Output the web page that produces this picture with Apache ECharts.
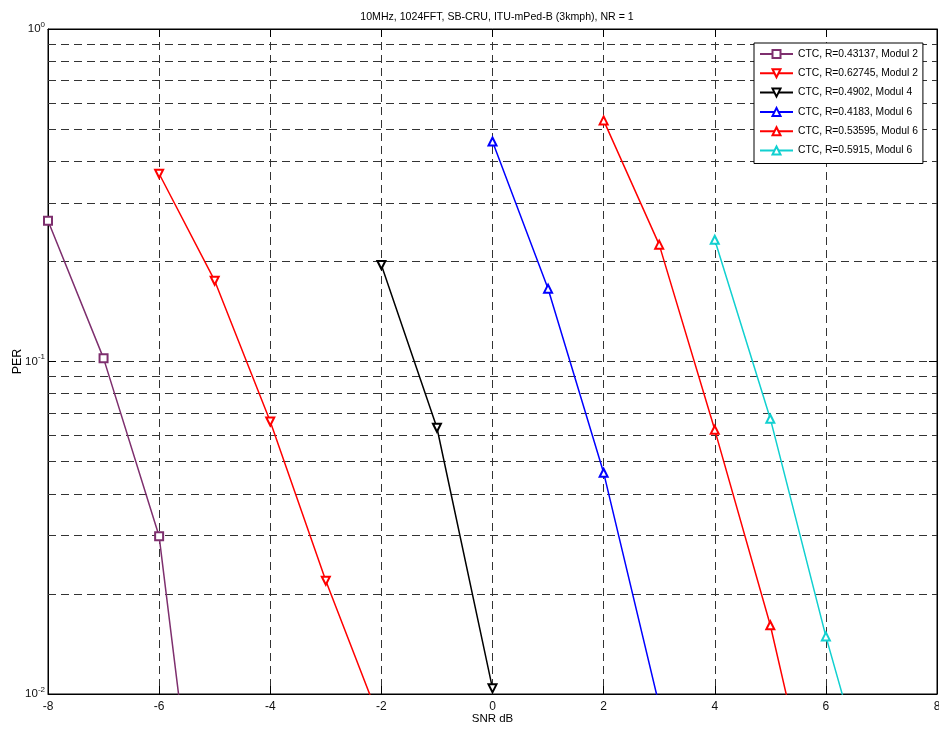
<!DOCTYPE html>
<html>
<head>
<meta charset="utf-8">
<script src="https://cdn.jsdelivr.net/npm/echarts@6/dist/echarts.min.js"></script>
<style>
html,body{margin:0;padding:0;background:#fff;}
#chart{width:939px;height:731px;}
</style>
</head>
<body>
<div id="chart"></div>
<script>
// ---- data ----
var titleText = '10MHz, 1024FFT, SB-CRU, ITU-mPed-B (3kmph), NR = 1';
var xTicks = [-8, -6, -4, -2, 0, 2, 4, 6, 8];
var yMajor = [0.01, 0.1, 1];
var yMinor = [0.02, 0.03, 0.04, 0.05, 0.06, 0.07, 0.08, 0.09, 0.2, 0.3, 0.4, 0.5, 0.6, 0.7, 0.8, 0.9];

var seriesNames = [
  'CTC, R=0.43137, Modul 2',
  'CTC, R=0.62745, Modul 2',
  'CTC, R=0.4902, Modul 4',
  'CTC, R=0.4183, Modul 6',
  'CTC, R=0.53595, Modul 6',
  'CTC, R=0.5915, Modul 6'
];
var snr1 = [-8, -7, -6, -5];
var per1 = [0.265, 0.1022, 0.0298, 0.00131];
var snr2 = [-6, -5, -4, -3, -2];
var per2 = [0.367, 0.175, 0.066, 0.0219, 0.0081];
var snr3 = [-2, -1, 0];
var per3 = [0.195, 0.0632, 0.0104];
var snr4 = [0, 1, 2, 3];
var per4 = [0.459, 0.1656, 0.0463, 0.00925];
var snr5 = [2, 3, 4, 5, 6];
var per5 = [0.531, 0.2246, 0.0623, 0.0161, 0.00303];
var snr6 = [4, 5, 6, 7];
var per6 = [0.2324, 0.0673, 0.0149, 0.00383];

// ---- styles ----
var colors = ['#7E2F6E', '#FF0000', '#000000', '#0000FF', '#FF0000', '#11D0D0'];
var symbols = ['emptyRect', 'emptyTriangle', 'emptyTriangle', 'emptyTriangle', 'emptyTriangle', 'emptyTriangle'];
var rotates = [0, 180, 180, 0, 0, 0];
var xs = [snr1, snr2, snr3, snr4, snr5, snr6];
var ys = [per1, per2, per3, per4, per5, per6];

function zip(a, b) { return a.map(function (v, i) { return [v, b[i]]; }); }

var gridDash = { color: '#333', type: [8, 5], width: 1 };

var series = seriesNames.map(function (n, i) {
  return {
    name: n,
    type: 'line',
    data: zip(xs[i], ys[i]),
    symbol: symbols[i],
    symbolRotate: rotates[i],
    symbolSize: 8,
    clip: true,
    z: 3,
    lineStyle: { color: colors[i], width: 1.5 },
    itemStyle: { color: colors[i], borderWidth: 1.5 },
    animation: false
  };
});
series[0].markLine = {
  silent: true,
  symbol: ['none', 'none'],
  label: { show: false },
  animation: false,
  z: 1,
  lineStyle: gridDash,
  data: yMinor.map(function (v) { return { yAxis: v }; })
};

function supLabel(v) {
  var e = Math.round(Math.log10(v));
  return '{b|10}{s|' + e + '}';
}

var chart = echarts.init(document.getElementById('chart'), null, { renderer: 'canvas' });
chart.setOption({
  backgroundColor: '#fff',
  animation: false,
  title: {
    text: titleText,
    left: 492, top: 7, textAlign: 'center',
    textStyle: { fontFamily: 'Liberation Sans, Arial', fontSize: 10.6, fontWeight: 'normal', color: '#000' }
  },
  legend: {
    orient: 'vertical',
    left: 754, top: 43,
    z: 20,
    padding: [6, 5, 8, 5],
    itemWidth: 33, itemHeight: 10, itemGap: 9.3,
    backgroundColor: '#fff',
    borderColor: '#000', borderWidth: 1, borderRadius: 0,
    textStyle: { fontFamily: 'Liberation Sans, Arial', fontSize: 10.3, color: '#000' },
    data: seriesNames
  },
  grid: {
    left: 48, right: 2, top: 29, bottom: 37,
    outerBoundsMode: 'none',
    containLabel: false,
    show: true, borderColor: '#000', borderWidth: 1, backgroundColor: 'transparent'
  },
  xAxis: [{
    type: 'value', min: -8, max: 8, interval: 2,
    name: 'SNR dB', nameLocation: 'middle', nameGap: 19, nameMoveOverlap: false,
    nameTextStyle: { fontFamily: 'Liberation Sans, Arial', fontSize: 11.5, color: '#000' },
    axisLine: { show: true, onZero: false, lineStyle: { color: '#000', width: 1 } },
    axisTick: { show: true, inside: true, length: 8, lineStyle: { color: '#000' } },
    axisLabel: { margin: 7, fontFamily: 'Liberation Sans, Arial', fontSize: 12, color: '#111',
      formatter: function (v) { return xTicks.indexOf(v) >= 0 ? String(v) : ''; } },
    splitLine: { show: true, lineStyle: gridDash }
  }, {
    type: 'value', min: -8, max: 8, interval: 2, position: 'top',
    axisLine: { show: true, onZero: false, lineStyle: { color: '#000' } },
    axisTick: { show: true, inside: true, length: 8, lineStyle: { color: '#000' } },
    axisLabel: { show: false }, splitLine: { show: false }
  }],
  yAxis: [{
    type: 'log', logBase: 10, min: 0.01, max: 1,
    name: 'PER', nameLocation: 'middle', nameGap: 24, nameMoveOverlap: false,
    nameTextStyle: { fontFamily: 'Liberation Sans, Arial', fontSize: 12.5, color: '#000' },
    axisLine: { show: true, onZero: false, lineStyle: { color: '#000' } },
    axisTick: { show: true, inside: true, length: 8, lineStyle: { color: '#000' } },
    axisLabel: {
      margin: 3,
      formatter: function (v) { return supLabel(v); },
      rich: {
        b: { fontFamily: 'Liberation Sans, Arial', fontSize: 11.5, color: '#111' },
        s: { fontFamily: 'Liberation Sans, Arial', fontSize: 8, color: '#111', padding: [0, 0, 9, 0] }
      }
    },
    splitLine: { show: true, lineStyle: gridDash }
  }, {
    type: 'log', logBase: 10, min: 0.01, max: 1, position: 'right',
    axisLine: { show: true, onZero: false, lineStyle: { color: '#000' } },
    axisTick: { show: true, inside: true, length: 8, lineStyle: { color: '#000' } },
    axisLabel: { show: false }, splitLine: { show: false }
  }],
  series: series
});
</script>
</body>
</html>
